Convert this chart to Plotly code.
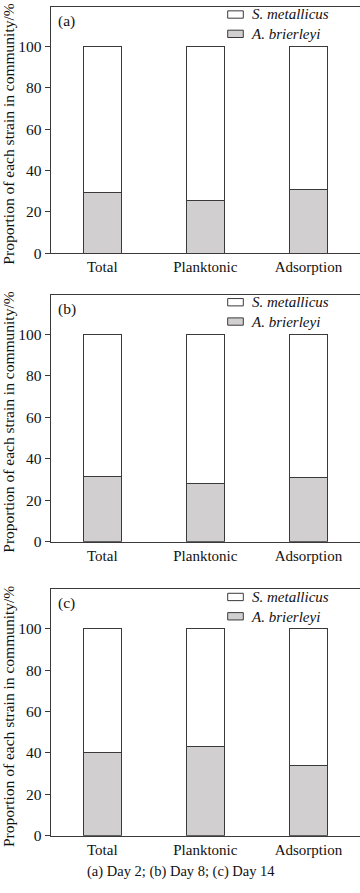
import plotly.graph_objects as go

categories = ["Total", "Planktonic", "Adsorption"]
panel_labels = ["(a)", "(b)", "(c)"]
a_brierleyi = [
    [29.3, 25.5, 30.7],   # (a) Day 2
    [31.4, 27.9, 31.1],   # (b) Day 8
    [40.0, 43.3, 33.8],   # (c) Day 14
]
s_metallicus = [[round(100 - v, 1) for v in row] for row in a_brierleyi]
series_names = ["S. metallicus", "A. brierleyi"]
y_ticks = [0, 20, 40, 60, 80, 100]
caption = "(a) Day 2; (b) Day 8; (c) Day 14"
y_title = "Proportion of each strain in community/%"

W, H = 360, 893
FONT = "Liberation Serif, Times New Roman, serif"
GRAY = "#d2cfd0"
EDGE = "#3a3a3a"
TXT = "#111111"
LEG_FONT = 15
LEG_STEP = 1.3 * LEG_FONT  # plotly line spacing for multi-line text

# pixel geometry (top, bottom) of each panel's plot area
panels_px = [(7.0, 255.7), (297.3, 546.7), (594.7, 843.3)]
x_left_px = 50.7


def px_x(p):
    return p / W


def px_y(p):
    return 1 - p / H


fig = go.Figure()
layout = dict()
shapes = []
annotations = []
for i in range(3):
    n = "" if i == 0 else str(i + 1)
    xa, ya = "x" + n, "y" + n
    fig.add_trace(go.Bar(
        x=categories, y=a_brierleyi[i], name=series_names[1],
        marker=dict(color=GRAY, line=dict(color=EDGE, width=1)),
        width=0.368, xaxis=xa, yaxis=ya, showlegend=False))
    fig.add_trace(go.Bar(
        x=categories, y=s_metallicus[i], name=series_names[0],
        marker=dict(color="white", line=dict(color=EDGE, width=1)),
        width=0.368, xaxis=xa, yaxis=ya, showlegend=False))
    top, bot = panels_px[i]
    layout["xaxis" + n] = dict(
        domain=[px_x(x_left_px), 1.0], anchor=ya, range=[-0.5, 2.5],
        showline=True, linecolor=EDGE, linewidth=1, mirror=True,
        ticks="", showgrid=False, zeroline=False,
        tickfont=dict(family=FONT, size=15, color=TXT))
    layout["yaxis" + n] = dict(
        domain=[px_y(bot), px_y(top)], anchor=xa, range=[0, 119],
        tickvals=y_ticks, showline=True, linecolor=EDGE, linewidth=1,
        ticks="outside", ticklen=5, tickcolor=EDGE, showgrid=False,
        zeroline=False, tickfont=dict(family=FONT, size=15.5, color=TXT))

    # legend: swatches as paper shapes, names as one two-line text block
    mid = top + 17.4
    row_y = [mid - LEG_STEP / 2, mid + LEG_STEP / 2]
    for k, fill in enumerate(["white", GRAY]):
        cy = row_y[k]
        shapes.append(dict(
            type="rect", xref="paper", yref="paper",
            x0=px_x(227.7), x1=px_x(243.3), y0=px_y(cy + 3.7), y1=px_y(cy - 3.7),
            fillcolor=fill, line=dict(color=EDGE, width=1)))
    annotations.append(dict(
        text="<br>".join("<i>" + s + "</i>" for s in series_names),
        xref="paper", yref="paper", align="left",
        x=px_x(248.5), y=px_y(mid), xanchor="left", yanchor="middle",
        showarrow=False, font=dict(family=FONT, size=LEG_FONT, color=TXT)))

    annotations.append(dict(
        text=panel_labels[i], xref="paper", yref="paper",
        x=px_x(55.5), y=px_y(top + 14), xanchor="left", yanchor="middle",
        showarrow=False, font=dict(family=FONT, size=15.5, color=TXT)))
    annotations.append(dict(
        text=y_title, xref="paper", yref="paper", textangle=-90,
        x=px_x(8.5), y=px_y((top + bot) / 2 + 4), xanchor="center",
        yanchor="middle", showarrow=False,
        font=dict(family=FONT, size=15.5, color=TXT)))

annotations.append(dict(
    text=caption, xref="paper", yref="paper", x=px_x(181), y=px_y(879),
    xanchor="center", yanchor="middle", showarrow=False,
    font=dict(family=FONT, size=14.5, color=TXT)))

fig.update_layout(
    width=W, height=H, autosize=False,
    margin=dict(l=0, r=0, t=0, b=0),
    paper_bgcolor="white", plot_bgcolor="white",
    barmode="stack", showlegend=False,
    shapes=shapes, annotations=annotations, **layout)

fig.write_html("out.html",
               config={"displayModeBar": False},
               post_script="document.body.style.margin='0';"
                           "document.body.style.overflow='hidden';")
